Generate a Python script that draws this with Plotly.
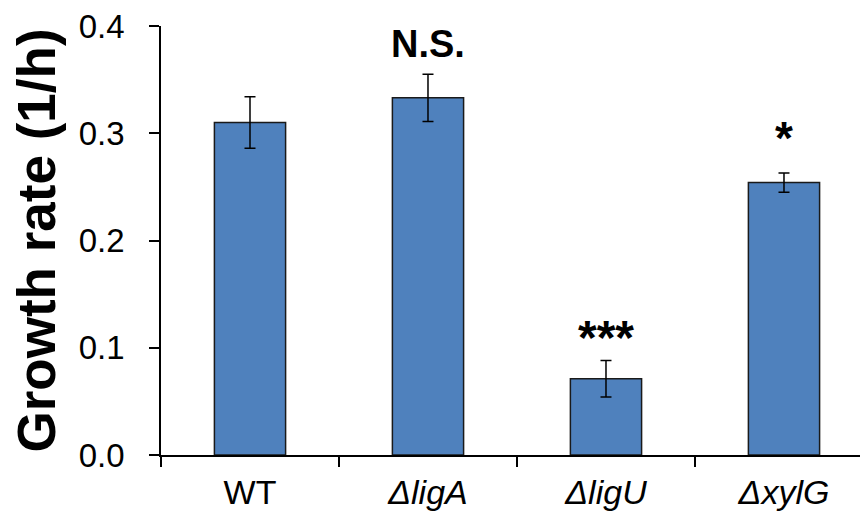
import plotly.graph_objects as go

categories = ["WT", "<i>ΔligA</i>", "<i>ΔligU</i>", "<i>ΔxylG</i>"]
growth_rate = [0.310, 0.333, 0.071, 0.254]
error = [0.024, 0.022, 0.017, 0.009]
significance = ["", "N.S.", "***", "*"]
y_ticks = [0.0, 0.1, 0.2, 0.3, 0.4]
y_tick_labels = ["0.0", "0.1", "0.2", "0.3", "0.4"]

FONT = "Liberation Sans, Arial, sans-serif"

fig = go.Figure()
fig.add_trace(go.Bar(
    x=categories,
    y=growth_rate,
    width=0.4,
    marker=dict(color="#4f81bd", line=dict(color="#1a1a1a", width=1.5)),
    error_y=dict(type="data", array=error, visible=True, color="#000000",
                 thickness=1.5, width=5.5),
))

shifts = {"N.S.": 7, "***": -5, "*": 7}
sizes = {"N.S.": 38, "***": 48, "*": 46}
for cat, v, e, s in zip(categories, growth_rate, error, significance):
    if not s:
        continue
    fig.add_annotation(
        x=cat, y=v + e, xref="x", yref="y", text=f"<b>{s}</b>",
        showarrow=False, yanchor="bottom", xanchor="center", yshift=shifts[s],
        font=dict(family=FONT, size=sizes[s], color="#000000"),
    )

fig.add_annotation(
    x=0, y=0.5, xref="paper", yref="paper", text="<b>Growth rate (1/h)</b>",
    textangle=-90, showarrow=False, xanchor="center", yanchor="middle",
    xshift=-125, font=dict(family=FONT, size=53, color="#000000"),
)

fig.update_layout(
    width=860, height=511,
    margin=dict(l=153, r=0, t=15, b=64),
    paper_bgcolor="white", plot_bgcolor="white",
    showlegend=False,
    font=dict(family=FONT, color="#000000"),
)
fig.update_xaxes(
    range=[-0.5, 3.472],
    showline=True, linecolor="#000000", linewidth=1.5,
    ticks="outside", tickson="boundaries", ticklen=10, tickwidth=1.5, tickcolor="#000000",
    tickfont=dict(family=FONT, size=34, color="#000000"),
    ticklabelstandoff=6, ticklabeloverflow="allow",
    showgrid=False, zeroline=False,
)
fig.update_yaxes(
    range=[0, 0.4],
    tickvals=y_ticks, ticktext=y_tick_labels,
    showline=True, linecolor="#000000", linewidth=1.5,
    ticks="outside", ticklen=10, tickwidth=1.5, tickcolor="#000000",
    tickfont=dict(family=FONT, size=33, color="#000000"),
    ticklabelstandoff=18, ticklabeloverflow="allow",
    showgrid=False, zeroline=False,
)

fig.write_html("out.html")
